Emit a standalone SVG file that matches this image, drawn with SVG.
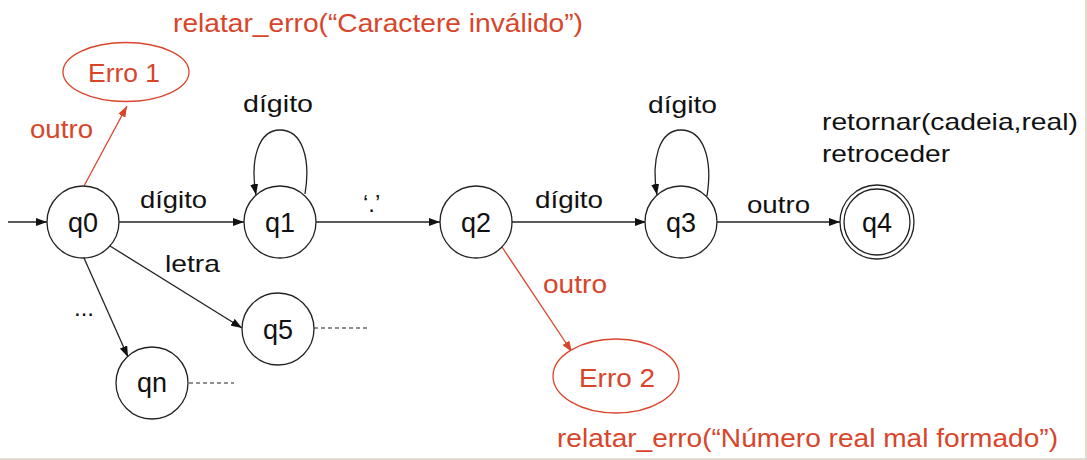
<svg xmlns="http://www.w3.org/2000/svg" width="1087" height="460" viewBox="0 0 1087 460">
<style>
  .st { fill: #fff; stroke: #222; stroke-width: 1.3; }
  .err { fill: #fff; stroke: #d8452b; stroke-width: 1.3; }
  .lbl { font-family: "Liberation Sans", Arial, sans-serif; font-size: 24px; fill: #111; }
  .nl { font-family: "Liberation Sans", Arial, sans-serif; font-size: 27px; fill: #111; text-anchor: middle; }
  .red { font-family: "Liberation Sans", Arial, sans-serif; font-size: 25px; fill: #d8452b; }
  .e { fill: none; stroke: #222; stroke-width: 1.3; marker-end: url(#ah); }
  .re { fill: none; stroke: #d8452b; stroke-width: 1.3; marker-end: url(#rah); }
  .dash { fill: none; stroke: #222; stroke-width: 1.2; stroke-dasharray: 4 3; }
</style>
<defs>
  <marker id="ah" markerUnits="userSpaceOnUse" markerWidth="11" markerHeight="8" refX="11" refY="4" orient="auto">
    <path d="M0,0 L11,4 L0,8 z" fill="#111"/>
  </marker>
  <marker id="rah" markerUnits="userSpaceOnUse" markerWidth="11" markerHeight="8" refX="11" refY="4" orient="auto">
    <path d="M0,0 L11,4 L0,8 z" fill="#d8452b"/>
  </marker>
</defs>
<rect x="0" y="0" width="1087" height="460" fill="#e3dcd0"/>
<rect x="0" y="0" width="1085" height="458" fill="#fff"/>

<g id="connectors">
  <line class="e" x1="8" y1="222" x2="47" y2="222"/>
  <line class="e" x1="119" y1="222" x2="244" y2="222"/>
  <line class="e" x1="316" y1="222" x2="440" y2="222"/>
  <line class="e" x1="512" y1="222" x2="646" y2="222"/>
  <line class="e" x1="717" y1="222" x2="840" y2="222"/>
  <path class="e" d="M305,194 C311,158 302,130 280,130 C258,130 250,160 256,195"/>
  <path class="e" d="M707,196 C713,158 703,130 681,130 C659,130 651,160 657,195"/>
  <line class="e" x1="110" y1="246" x2="242" y2="328"/>
  <line class="e" x1="84" y1="258" x2="128" y2="357"/>
  <line class="re" x1="84" y1="186" x2="127" y2="106"/>
  <line class="re" x1="502" y1="247" x2="572" y2="352"/>
  <line class="dash" x1="314" y1="328" x2="368" y2="328"/>
  <line class="dash" x1="189" y1="383" x2="234" y2="383"/>
  <text class="lbl" x="140" y="208" textLength="67" lengthAdjust="spacingAndGlyphs">dígito</text>
  <text class="lbl" x="243" y="112" textLength="70" lengthAdjust="spacingAndGlyphs">dígito</text>
  <text class="lbl" x="363" y="212">‘.’</text>
  <text class="lbl" x="535" y="208" textLength="68" lengthAdjust="spacingAndGlyphs">dígito</text>
  <text class="lbl" x="648" y="113" textLength="69" lengthAdjust="spacingAndGlyphs">dígito</text>
  <text class="lbl" x="747" y="213" textLength="63" lengthAdjust="spacingAndGlyphs">outro</text>
  <text class="lbl" x="165" y="272" textLength="55" lengthAdjust="spacingAndGlyphs">letra</text>
  <text class="lbl" x="74" y="316">...</text>
  <text class="red" x="30" y="138" textLength="63" lengthAdjust="spacingAndGlyphs">outro</text>
  <text class="red" x="543" y="293" textLength="64" lengthAdjust="spacingAndGlyphs">outro</text>
</g>

<g id="q0"><circle class="st" cx="83" cy="222" r="36"/><text class="nl" x="83" y="232">q0</text></g>
<g id="q1"><circle class="st" cx="280" cy="222" r="36"/><text class="nl" x="280" y="232">q1</text></g>
<g id="q2"><circle class="st" cx="476" cy="222" r="36"/><text class="nl" x="476" y="232">q2</text></g>
<g id="q3"><circle class="st" cx="681" cy="222" r="36"/><text class="nl" x="681" y="232">q3</text></g>
<g id="q4">
  <circle class="st" cx="877" cy="222" r="37"/>
  <circle class="st" cx="877" cy="222" r="33"/>
  <text class="nl" x="877" y="232">q4</text>
  <text class="lbl" x="822" y="130" textLength="256" lengthAdjust="spacingAndGlyphs">retornar(cadeia,real)</text>
  <text class="lbl" x="822" y="162" textLength="128" lengthAdjust="spacingAndGlyphs">retroceder</text>
</g>
<g id="q5"><circle class="st" cx="278" cy="329" r="36"/><text class="nl" x="278" y="339">q5</text></g>
<g id="qn"><circle class="st" cx="152" cy="383" r="36"/><text class="nl" x="152" y="392">qn</text></g>
<g id="erro1">
  <ellipse class="err" cx="126" cy="72" rx="63" ry="29.5"/>
  <text class="red" x="88" y="82" textLength="72" lengthAdjust="spacingAndGlyphs">Erro 1</text>
  <text class="red" x="173" y="32" textLength="410" lengthAdjust="spacingAndGlyphs">relatar_erro(“Caractere inválido”)</text>
</g>
<g id="erro2">
  <ellipse class="err" cx="616" cy="376" rx="63" ry="37"/>
  <text class="red" x="579" y="387" textLength="76" lengthAdjust="spacingAndGlyphs">Erro 2</text>
  <text class="red" x="557" y="447" textLength="501" lengthAdjust="spacingAndGlyphs">relatar_erro(“Número real mal formado”)</text>
</g>
</svg>
